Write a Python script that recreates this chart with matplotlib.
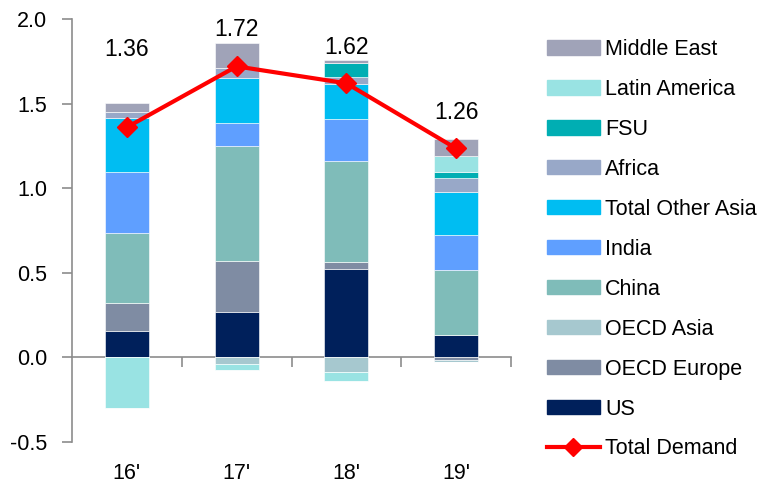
import matplotlib.pyplot as plt
from matplotlib.patches import Patch
from matplotlib.lines import Line2D
import numpy as np

plt.rcParams['font.family'] = ['Liberation Sans', 'DejaVu Sans']

years = ["16'", "17'", "18'", "19'"]

us = [0.156, 0.268, 0.523, 0.130]
oecd_europe = [0.165, 0.302, 0.041, -0.015]
oecd_asia = [0.0, -0.039, -0.085, -0.010]
china = [0.413, 0.677, 0.596, 0.389]
india = [0.359, 0.136, 0.247, 0.203]
other_asia = [0.323, 0.270, 0.207, 0.256]
africa = [0.032, 0.055, 0.043, 0.081]
fsu = [0.0, 0.0, 0.085, 0.039]
latin_america = [-0.300, -0.034, -0.057, 0.091]
middle_east = [0.055, 0.152, 0.018, 0.101]

total_demand = [1.36, 1.72, 1.62, 1.235]
demand_labels = ['1.36', '1.72', '1.62', '1.26']
label_y = [1.82, 1.935, 1.83, 1.445]

series = [
    ('US', us, '#00205B'),
    ('OECD Europe', oecd_europe, '#7F8CA3'),
    ('OECD Asia', oecd_asia, '#A6C8CF'),
    ('China', china, '#7FBCB9'),
    ('India', india, '#5F9FFF'),
    ('Total Other Asia', other_asia, '#00BDF2'),
    ('Africa', africa, '#98A8C8'),
    ('FSU', fsu, '#00AEB3'),
    ('Latin America', latin_america, '#99E3E3'),
    ('Middle East', middle_east, '#A0A3B8'),
]

axis_gray = '#8C8C8C'
fs = 15.5

fig = plt.figure(figsize=(7.63, 4.86), dpi=100)
ax = fig.add_axes([72 / 763, 1 - 442 / 486, (511 - 72) / 763, (442 - 19) / 486])

x = np.arange(len(years))
pos_bottom = np.zeros(len(years))
neg_bottom = np.zeros(len(years))
for name, vals, color in series:
    vals = np.array(vals)
    pos = np.where(vals > 0, vals, 0)
    neg = np.where(vals < 0, vals, 0)
    ax.bar(x, pos, 0.4, bottom=pos_bottom, color=color, edgecolor='white', linewidth=0.4, zorder=2)
    ax.bar(x, neg, 0.4, bottom=neg_bottom, color=color, edgecolor='white', linewidth=0.4, zorder=2)
    pos_bottom += pos
    neg_bottom += neg

ax.plot(x, total_demand, color='#FF0000', lw=3, marker='D', markersize=10, zorder=4)
for xi, yi, txt in zip(x, label_y, demand_labels):
    ax.text(xi, yi, txt, ha='center', va='center', fontsize=16.5, zorder=5)

ax.set_xlim(-0.5, len(years) - 0.5)
ax.set_ylim(-0.5, 2.0)
ax.set_yticks([-0.5, 0.0, 0.5, 1.0, 1.5, 2.0])
ax.set_yticklabels(['-0.5', '0.0', '0.5', '1.0', '1.5', '2.0'])
ax.tick_params(axis='y', length=7, width=1.2, color=axis_gray, pad=11, labelsize=fs)
for s in ['top', 'right', 'bottom']:
    ax.spines[s].set_visible(False)
ax.spines['left'].set_color(axis_gray)
ax.spines['left'].set_linewidth(1.2)

ax.set_xticks(x)
ax.set_xticklabels(years)
ax.tick_params(axis='x', length=0, pad=15, labelsize=fs)

# zero line with category separators
zero_ax = ax.secondary_xaxis(0.5 / 2.5)
zero_ax.set_xticks(x + 0.5)
zero_ax.set_xticklabels([])
zero_ax.tick_params(length=7, width=1.2, color=axis_gray, direction='out')
zero_ax.spines['bottom'].set_color(axis_gray)
zero_ax.spines['bottom'].set_linewidth(1.2)

handles = [Patch(color=c, label=n) for n, v, c in series][::-1]
handles.append(Line2D([], [], color='#FF0000', lw=3, marker='D', markersize=9, label='Total Demand'))
fig.legend(handles=handles, loc='upper left', bbox_to_anchor=(547 / 763, 1 - 39 / 486),
           frameon=False, fontsize=fs, borderpad=0, borderaxespad=0,
           handlelength=2.45, handleheight=0.65, handletextpad=0.25, labelspacing=0.88)

fig.savefig('out.png', dpi=100)
